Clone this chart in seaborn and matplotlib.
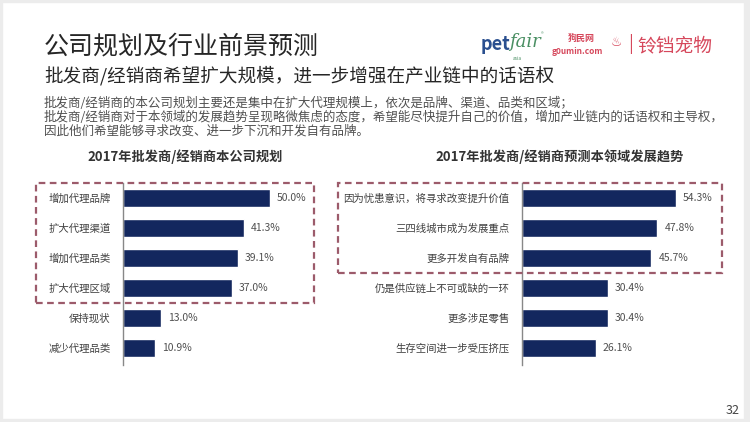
import pandas as pd
import matplotlib.pyplot as plt
import matplotlib.patches as patches
import seaborn as sns

# chart data
plan_labels = ['增加代理品牌', '扩大代理渠道', '增加代理品类', '扩大代理区域', '保持现状', '减少代理品类']
plan_values = [50.0, 41.3, 39.1, 37.0, 13.0, 10.9]

trend_labels = ['因为忧患意识，将寻求改变提升价值', '三四线城市成为发展重点', '更多开发自有品牌',
                '仍是供应链上不可或缺的一环', '更多涉足零售', '生存空间进一步受压挤压']
trend_values = [54.3, 47.8, 45.7, 30.4, 30.4, 26.1]

title = '公司规划及行业前景预测'
subtitle = '批发商/经销商希望扩大规模，进一步增强在产业链中的话语权'
body = ['批发商/经销商的本公司规划主要还是集中在扩大代理规模上，依次是品牌、渠道、品类和区域；',
        '批发商/经销商对于本领域的发展趋势呈现略微焦虑的态度，希望能尽快提升自己的价值，增加产业链内的话语权和主导权，',
        '因此他们希望能够寻求改变、进一步下沉和开发自有品牌。']
left_title = '2017年批发商/经销商本公司规划'
right_title = '2017年批发商/经销商预测本领域发展趋势'

sns.set_style('white')
plt.rcParams['font.family'] = ['Noto Sans CJK SC', 'DejaVu Sans']

W, H = 750, 422
fig = plt.figure(figsize=(W / 100, H / 100), dpi=100)
fig.patch.set_facecolor('white')


def rect(x0, y0, x1, y1):
    return [x0 / W, 1 - y1 / H, (x1 - x0) / W, (y1 - y0) / H]


bar_color = '#13275e'


def draw(ax, labels, values):
    df = pd.DataFrame({'label': labels, 'value': values})
    sns.barplot(data=df, x='value', y='label', orient='h', color=bar_color,
                width=0.6, saturation=1, ax=ax)
    ax.set_xlim(0, 60)
    ax.set_ylim(5.57, -0.5)
    ax.set_xlabel('')
    ax.set_ylabel('')
    ax.set_xticks([])
    for s in ['top', 'right', 'bottom']:
        ax.spines[s].set_visible(False)
    ax.spines['left'].set_color('#888888')
    ax.spines['left'].set_linewidth(1.0)
    ax.tick_params(axis='y', length=0, pad=9, labelsize=7.5, labelcolor='#404040')
    ax.bar_label(ax.containers[0], labels=[f'{v:.1f}%' for v in values],
                 padding=5, fontsize=7.5, color='#505050')
    ax.set_facecolor('none')


ax1 = fig.add_axes(rect(123, 183, 299, 365))
draw(ax1, plan_labels, plan_values)
ax2 = fig.add_axes(rect(522, 183, 692, 365))
draw(ax2, trend_labels, trend_values)

# dashed highlight boxes
box_kw = dict(fill=False, edgecolor='#9c5b6b', linewidth=1.6, linestyle=(0, (3, 2)),
              transform=fig.transFigure)
for x0, y0, x1, y1 in [(36, 183, 314, 303), (338, 183, 722, 273)]:
    r = rect(x0, y0, x1, y1)
    fig.patches.append(patches.Rectangle((r[0], r[1]), r[2], r[3], **box_kw))

# slide edges
edge = '#ececec'
for x0, y0, x1, y1 in [(744, 0, 750, 422), (0, 0, 2, 422), (0, 419, 750, 422), (0, 0, 750, 2)]:
    r = rect(x0, y0, x1, y1)
    fig.patches.append(patches.Rectangle((r[0], r[1]), r[2], r[3], color=edge,
                                         transform=fig.transFigure))


def txt(x, y, s, **kw):
    fig.text(x / W, 1 - y / H, s, **kw)


txt(44, 47, title, fontsize=18, weight='light', color='#262626', va='center')
txt(44, 76, subtitle, fontsize=13.4, weight='light', color='#262626', va='center')
for i, line in enumerate(body):
    txt(44, 103 + i * 14, line, fontsize=9, weight='light', color='#505050', va='center')

txt(185, 157, left_title, fontsize=9.5, weight='bold', color='#333333', ha='center', va='center')
txt(560, 157, right_title, fontsize=9.5, weight='bold', color='#333333', ha='center', va='center')

# logos
txt(481, 44, 'pet', fontsize=13, weight='bold', color='#2a4f8f', va='center')
txt(509, 42, 'fair', fontsize=13, style='italic', color='#4a8f63', va='center', family='DejaVu Serif')
txt(513, 58, 'asia', fontsize=3.5, color='#4a8f63', va='center')
txt(541, 35, '®', fontsize=4, color='#4a8f63', va='center')
txt(581, 38, '狗民网', fontsize=6.5, weight='bold', color='#d6485c', ha='center', va='center')
txt(577, 51, 'g0umin.com', fontsize=6, weight='bold', color='#d6485c', ha='center', va='center')
txt(616, 43, '♨', fontsize=9, color='#d6485c', ha='center', va='center', family='DejaVu Sans')
txt(631, 44, '|', fontsize=13, color='#d6485c', ha='center', va='center')
txt(637, 46, '铃铛宠物', fontsize=13.5, color='#d6485c', va='center')

txt(733, 410, '32', fontsize=9, color='#444444', ha='center', va='center')

fig.savefig('out.png', dpi=100)
